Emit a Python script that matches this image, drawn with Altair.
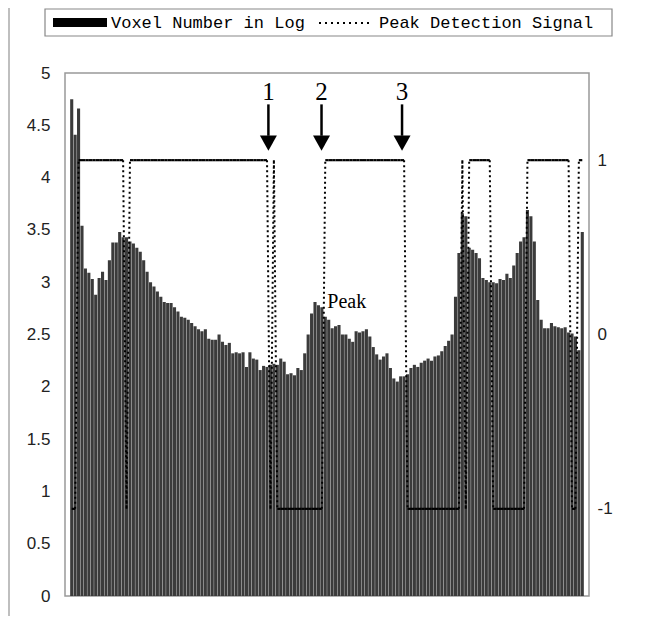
import altair as alt
import pandas as pd

# ---------------- data ----------------
voxel_log = [
    4.75, 4.41, 4.66, 3.54, 3.13, 3.09, 3.03, 2.88, 3.04, 3.10,
    3.02, 3.21, 3.38, 3.38, 3.48, 3.43, 3.43, 3.39, 3.37, 3.33,
    3.29, 3.21, 3.10, 3.00, 2.96, 2.91, 2.86, 2.81, 2.80, 2.80,
    2.76, 2.72, 2.67, 2.66, 2.64, 2.61, 2.58, 2.55, 2.53, 2.55,
    2.46, 2.45, 2.45, 2.50, 2.43, 2.40, 2.42, 2.32, 2.33, 2.32,
    2.33, 2.19, 2.33, 2.27, 2.26, 2.16, 2.20, 2.19, 2.21, 2.22,
    2.21, 2.27, 2.24, 2.12, 2.13, 2.11, 2.18, 2.16, 2.32, 2.50,
    2.70, 2.81, 2.78, 2.76, 2.67, 2.64, 2.56, 2.58, 2.59, 2.50,
    2.50, 2.46, 2.43, 2.53, 2.52, 2.53, 2.55, 2.48, 2.38, 2.31,
    2.26, 2.29, 2.32, 2.18, 2.08, 2.05, 2.10, 2.10, 2.12, 2.18,
    2.21, 2.19, 2.23, 2.25, 2.27, 2.25, 2.29, 2.30, 2.34, 2.39,
    2.44, 2.50, 2.86, 3.28, 3.66, 3.63, 3.33, 3.31, 3.28, 3.23,
    3.04, 3.02, 3.00, 3.00, 2.99, 3.03, 3.02, 3.08, 3.04, 3.16,
    3.28, 3.39, 3.43, 3.69, 3.63, 3.39, 2.83, 2.64, 2.56, 2.56,
    2.61, 2.58, 2.57, 2.56, 2.57, 2.52, 2.51, 2.48, 2.35, 3.48,
]

peak_signal = (
    [-1, -1] + [1] * 14 + [-1] + [1] * 41 + [-1, 1] + [-1] * 14
    + [1] * 24 + [-1] * 16 + [1, -1] + [1] * 7 + [-1] * 10
    + [1] * 13 + [-1, -1, 1, 1]
)

arrow_pos = [57.4, 72.9, 96.4]
arrow_labels = ["1", "2", "3"]
peak_label_pos = 74.6
peak_label_val = 2.81

left_ticks = [0, 0.5, 1, 1.5, 2, 2.5, 3, 3.5, 4, 4.5, 5]
right_ticks = [-1, 0, 1]

N = len(voxel_log)
idx = list(range(N))

bars_df = pd.DataFrame({"i": idx, "v": voxel_log})

seg_rows = []
for k in range(N - 1):
    seg_rows.append({
        "x": k, "x2": k + 1,
        "y": peak_signal[k], "y2": peak_signal[k + 1],
        "kind": "flat" if peak_signal[k] == peak_signal[k + 1] else "step",
    })
seg_df = pd.DataFrame(seg_rows)

arrows_df = pd.DataFrame({"i": arrow_pos, "lab": arrow_labels,
                          "ty": [4.82] * 3, "s1": [4.70] * 3, "s2": [4.40] * 3,
                          "hy": [4.33] * 3})
peak_df = pd.DataFrame({"i": [peak_label_pos], "v": [peak_label_val], "t": ["Peak"]})
one = pd.DataFrame({"a": [0]})

W, H = 524, 523
xscale = alt.Scale(domain=[-0.5, N - 0.5], nice=False, zero=False)
yleft = alt.Scale(domain=[0, 5], nice=False)
yright = alt.Scale(domain=[-1.5, 1.5], nice=False)

bars = alt.Chart(bars_df).mark_bar(size=3.1, color="#3b3b3b").encode(
    x=alt.X("i:Q", scale=xscale, axis=None),
    y=alt.Y("v:Q", scale=yleft, axis=alt.Axis(
        values=left_ticks, format="~g", title=None, ticks=False, domain=False,
        grid=False, labelFont="Liberation Sans", labelFontSize=17,
        labelColor="#222", labelPadding=15)),
)

arrow_text = alt.Chart(arrows_df).mark_text(
    font="Liberation Serif", fontSize=25, color="black", baseline="middle"
).encode(x=alt.X("i:Q", scale=xscale), y=alt.Y("ty:Q", scale=yleft), text="lab:N")

arrow_shaft = alt.Chart(arrows_df).mark_rule(color="black", strokeWidth=2.5).encode(
    x=alt.X("i:Q", scale=xscale), y=alt.Y("s1:Q", scale=yleft), y2="s2:Q")

arrow_head = alt.Chart(arrows_df).mark_point(
    shape="M-1,-0.9L1,-0.9L0,0.9Z", filled=True, color="black", opacity=1, size=289
).encode(x=alt.X("i:Q", scale=xscale), y=alt.Y("hy:Q", scale=yleft))

peak_text = alt.Chart(peak_df).mark_text(
    font="Liberation Serif", fontSize=20, color="black", align="left", baseline="middle"
).encode(x=alt.X("i:Q", scale=xscale), y=alt.Y("v:Q", scale=yleft), text="t:N")

# legend (drawn in the padding above the plot)
leg_box = alt.Chart(one).mark_rect(fill="white", stroke="#888", strokeWidth=1.2).encode(
    x=alt.value(-20), x2=alt.value(547), y=alt.value(-64), y2=alt.value(-37))
leg_sym = alt.Chart(one).mark_rect(color="black").encode(
    x=alt.value(-12), x2=alt.value(42), y=alt.value(-55), y2=alt.value(-46))
leg_t1 = alt.Chart(one).mark_text(
    text="Voxel Number in Log", font="Liberation Mono", fontSize=17, align="left",
    baseline="middle", color="black").encode(x=alt.value(46), y=alt.value(-50))
leg_dots = alt.Chart(one).mark_rule(color="black", strokeWidth=1.8, strokeDash=[2, 4]).encode(
    x=alt.value(254), x2=alt.value(306), y=alt.value(-50))
leg_t2 = alt.Chart(one).mark_text(
    text="Peak Detection Signal", font="Liberation Mono", fontSize=17, align="left",
    baseline="middle", color="black").encode(x=alt.value(314), y=alt.value(-50))
outer_left = alt.Chart(one).mark_rule(color="#aaa", strokeWidth=1.5).encode(
    x=alt.value(-56), y=alt.value(-65), y2=alt.value(543))

left_layer = alt.layer(bars, arrow_shaft, arrow_head, arrow_text, peak_text,
                       leg_box, leg_sym, leg_t1, leg_dots, leg_t2, outer_left)

flat = alt.Chart(seg_df).transform_filter(alt.datum.kind == "flat").mark_rule(
    color="black", strokeWidth=2.2).encode(
    x=alt.X("x:Q", scale=xscale), x2="x2:Q",
    y=alt.Y("y:Q", scale=yright, axis=alt.Axis(
        orient="right", values=right_ticks, labelExpr="'' + datum.value", title=None,
        ticks=False, domain=False, grid=False, labelFont="Liberation Sans",
        labelFontSize=17, labelColor="#222", labelPadding=8)),
    y2="y2:Q")
step = alt.Chart(seg_df).transform_filter(alt.datum.kind == "step").mark_rule(
    color="black", strokeWidth=2, strokeDash=[2, 3]).encode(
    x=alt.X("x:Q", scale=xscale), x2="x2:Q",
    y=alt.Y("y:Q", scale=yright), y2="y2:Q")

right_layer = alt.layer(flat, step)

chart = alt.layer(left_layer, right_layer).resolve_scale(y="independent").properties(
    width=W, height=H,
    autosize=alt.AutoSizeParams(type="none"),
    padding={"left": 57, "top": 65, "right": 52, "bottom": 20},
).configure_view(stroke="#999", strokeWidth=1.5)

chart.save("out.html", embed_options={"renderer": "svg", "actions": False})
